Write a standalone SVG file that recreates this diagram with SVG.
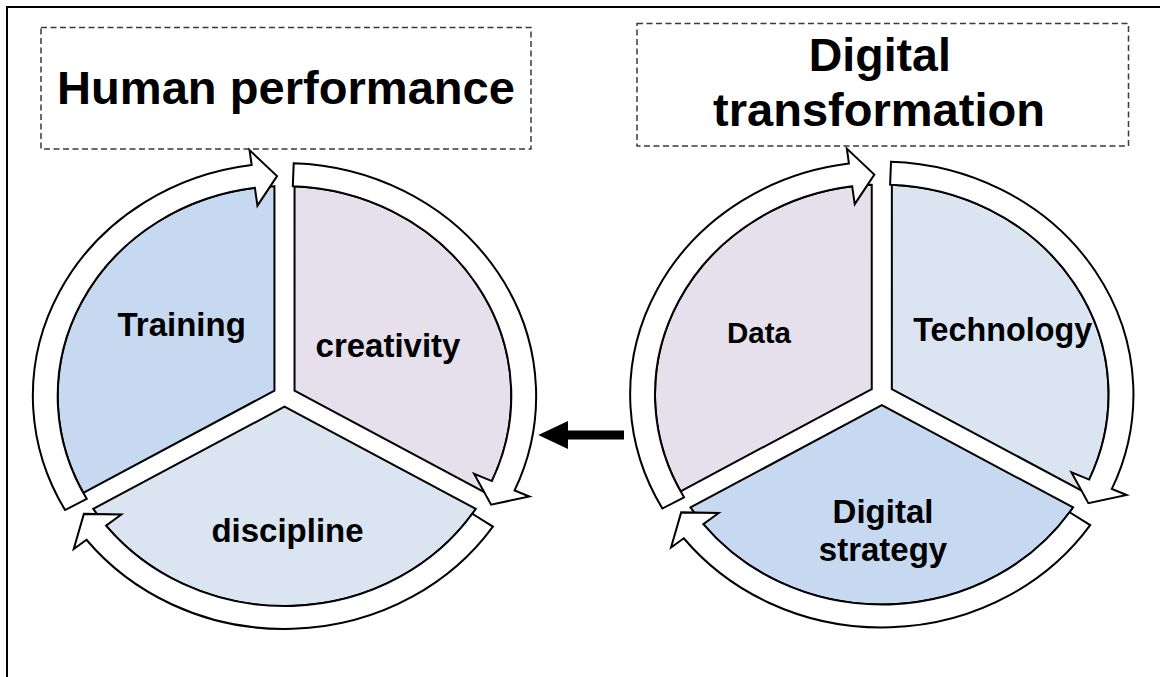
<svg xmlns="http://www.w3.org/2000/svg" width="1160" height="677" viewBox="0 0 1160 677">
<style>
.frame{fill:none;stroke:#000;stroke-width:2}
.tbox{fill:#fff;stroke:#3a3a3a;stroke-width:1.5;stroke-dasharray:6 3.5}
.ttl{font-family:"Liberation Sans",Arial,sans-serif;font-weight:bold;font-size:47px;fill:#000;text-anchor:middle}
.lbl{font-family:"Liberation Sans",Arial,sans-serif;font-weight:bold;font-size:33px;fill:#000;text-anchor:middle}
.blue{fill:#C6D9F1}
.lilac{fill:#E5E0EC}
.pale{fill:#DBE5F1}
.ring{fill:#fff}
</style>
<defs>
<path id="segTL" d="M -9.3,-5.37 L -186.33,96.84 A 210 210 0 0 1 -9.31,-209.79 Z" stroke="#000" stroke-width="2" vector-effect="non-scaling-stroke"/>
<path id="segTR" d="M 9.3,-5.37 L 9.31,-209.79 A 210 210 0 0 1 186.33,96.84 Z" stroke="#000" stroke-width="2" vector-effect="non-scaling-stroke"/>
<path id="segB" d="M 0,10.74 L 177.11,112.94 A 210 210 0 0 1 -177.11,112.94 Z" stroke="#000" stroke-width="2" vector-effect="non-scaling-stroke"/>
<path id="arrL" d="M -203.19,114.03 A 233 233 0 0 1 -30.41,-231.01 L -32.37,-245.88 L -6.91,-219.89 L -25.06,-190.36 L -27.41,-208.2 A 210 210 0 0 0 -183.13,102.77 Z" stroke="#000" stroke-width="2" vector-effect="non-scaling-stroke"/>
<path id="arrR" d="M 8.54,-232.84 A 233 233 0 0 1 213.02,94.4 L 226.73,100.47 L 191.29,108.67 L 175.54,77.79 L 191.99,85.08 A 210 210 0 0 0 7.69,-209.86 Z" stroke="#000" stroke-width="2" vector-effect="non-scaling-stroke"/>
<path id="arrB" d="M 192.94,130.63 A 233 233 0 0 1 -183.36,143.77 L -195.16,153.03 L -185.75,117.88 L -151.09,118.48 L -165.26,129.58 A 210 210 0 0 0 173.89,117.74 Z" stroke="#000" stroke-width="2" vector-effect="non-scaling-stroke"/>
</defs>
<rect width="1160" height="677" fill="#fff"/>
<path class="frame" d="M7,677 V7 H1160"/>

<g id="title-human">
<rect class="tbox" x="41" y="27.5" width="490" height="121.5"/>
<text class="ttl" x="286" y="104" textLength="458" lengthAdjust="spacingAndGlyphs">Human performance</text>
</g>
<g id="title-digital">
<rect class="tbox" x="637" y="23.5" width="491.5" height="122.5"/>
<text class="ttl" x="879.8" y="71" textLength="142" lengthAdjust="spacingAndGlyphs">Digital</text>
<text class="ttl" x="879" y="126" textLength="332" lengthAdjust="spacingAndGlyphs">transformation</text>
</g>

<g id="seg-training">
<use href="#segTL" class="blue" transform="translate(284.5,396) scale(1.08,1)"/>
<text class="lbl" x="181.7" y="336">Training</text>
</g>
<g id="seg-creativity">
<use href="#segTR" class="lilac" transform="translate(284.5,396) scale(1.08,1)"/>
<text class="lbl" x="388" y="357">creativity</text>
</g>
<g id="seg-discipline">
<use href="#segB" class="pale" transform="translate(284.5,396) scale(1.08,1)"/>
<text class="lbl" x="287.5" y="542">discipline</text>
</g>

<g id="seg-data">
<use href="#segTL" class="lilac" transform="translate(881.8,394.5) scale(1.08,1)"/>
<text class="lbl" x="759" y="343" style="font-size:29.5px">Data</text>
</g>
<g id="seg-technology">
<use href="#segTR" class="pale" transform="translate(881.8,394.5) scale(1.08,1)"/>
<text class="lbl" x="1002.7" y="341" style="font-size:32.3px">Technology</text>
</g>
<g id="seg-strategy">
<use href="#segB" class="blue" transform="translate(881.8,394.5) scale(1.08,1)"/>
<text class="lbl" x="883" y="523">Digital</text>
<text class="lbl" x="883" y="560.5">strategy</text>
</g>

<g id="connectors">
<g transform="translate(284.5,396) scale(1.08,1)">
<use href="#arrL" class="ring"/>
<use href="#arrR" class="ring"/>
<use href="#arrB" class="ring"/>
</g>
<g transform="translate(881.8,394.5) scale(1.08,1)">
<use href="#arrL" class="ring"/>
<use href="#arrR" class="ring"/>
<use href="#arrB" class="ring"/>
</g>
<path id="arrow-link" d="M624,430.5 H568 V421 L538.3,435 L568,449 V439.5 H624 Z" fill="#000"/>
</g>
</svg>
